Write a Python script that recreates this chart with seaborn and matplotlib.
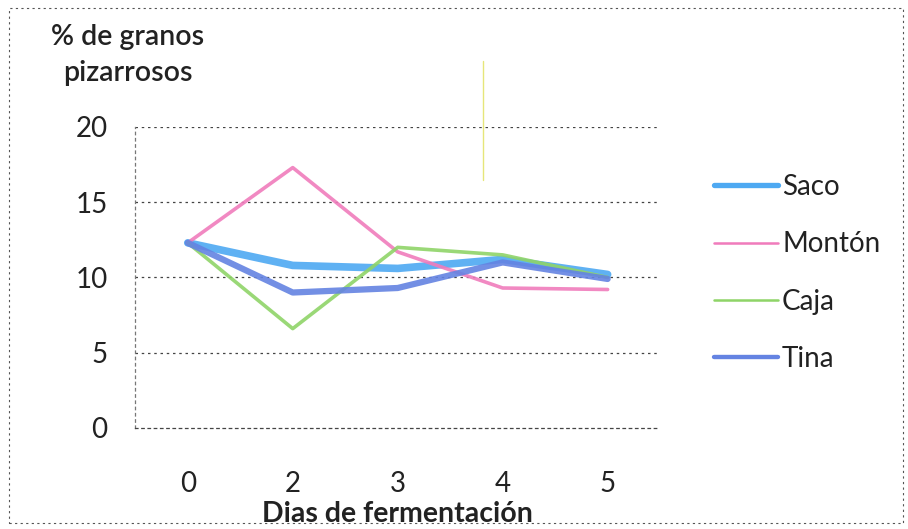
import matplotlib
matplotlib.use("Agg")
import matplotlib.pyplot as plt
from matplotlib.patches import Rectangle
from matplotlib.lines import Line2D
import seaborn as sns
import pandas as pd

# Días de fermentación y porcentaje de granos pizarrosos por método
dias = ["0", "2", "3", "4", "5"]
saco = [12.3, 10.8, 10.6, 11.2, 10.2]
monton = [12.3, 17.3, 11.7, 9.3, 9.2]
caja = [12.3, 6.6, 12.0, 11.5, 10.0]
tina = [12.3, 9.0, 9.3, 11.0, 9.9]
metodos = ["Saco", "Montón", "Caja", "Tina"]
y_ticks = [0, 5, 10, 15, 20]

colores = {"Saco": "#4ea9f2", "Montón": "#f07cbc", "Caja": "#8fd468", "Tina": "#6483e2"}
anchos = {"Saco": 5.5, "Montón": 2.6, "Caja": 2.6, "Tina": 4.5}

sns.set_theme(style="white")
plt.rcParams["font.family"] = ["Lato", "DejaVu Sans"]

filas = []
for nombre, serie in zip(metodos, [saco, monton, caja, tina]):
    for i, (d, v) in enumerate(zip(dias, serie)):
        filas.append({"pos": i, "dia": d, "valor": v, "metodo": nombre})
df = pd.DataFrame(filas)

fig = plt.figure(figsize=(9.08, 5.29), dpi=100)
ax = fig.add_axes([0.149, 0.191, 0.578, 0.569])

for nombre in metodos:
    sub = df[df["metodo"] == nombre]
    sns.lineplot(data=sub, x="pos", y="valor", ax=ax, color=colores[nombre],
                 linewidth=anchos[nombre], alpha=0.9, legend=False,
                 solid_capstyle="round", solid_joinstyle="round")

ax.set_xlim(-0.5, len(dias) - 0.5)
ax.set_ylim(0, 20)
ax.set_xticks(range(len(dias)))
ax.set_xticklabels(dias)
ax.set_yticks(y_ticks)
ax.set_yticklabels([str(t) for t in y_ticks])
ax.tick_params(axis="x", pad=31, labelsize=20, colors="#222222", length=0)
ax.tick_params(axis="y", pad=20, labelsize=20, colors="#222222", length=0)

for t in y_ticks[1:]:
    ax.axhline(t, color="#444444", linewidth=0.9, linestyle=(0, (2, 3)), zorder=0)

for s in ["top", "right"]:
    ax.spines[s].set_visible(False)
ax.spines["left"].set_color("#777777")
ax.spines["left"].set_linestyle((0, (2, 3)))
ax.spines["left"].set_linewidth(0.9)
ax.spines["bottom"].set_color("#444444")
ax.spines["bottom"].set_linestyle((0, (2, 3)))
ax.spines["bottom"].set_linewidth(0.9)

ax.set_xlabel("Dias de fermentación", fontsize=20.5, fontweight="bold",
              color="#222222", labelpad=3)
ax.set_ylabel("")

fig.text(0.141, 0.955, "% de granos\npizarrosos", ha="center", va="top",
         fontsize=20.5, fontweight="semibold", color="#222222", linespacing=1.5)

handles = [Line2D([0], [0], color=colores[m], linewidth=anchos[m] * 0.7,
                  solid_capstyle="round") for m in metodos]
fig.legend(handles, metodos, loc="center left",
           bbox_to_anchor=(714 / 908, 1 - 273 / 529),
           frameon=False, fontsize=20, handlelength=2.3, handletextpad=0.15,
           labelspacing=1.13, borderpad=0, borderaxespad=0, labelcolor="#222222")

# marco punteado del gráfico y trazo amarillo vertical
fig.add_artist(Rectangle((0.01, 0.012), 0.985, 0.972, transform=fig.transFigure,
                         fill=False, edgecolor="#555555", linewidth=0.8,
                         linestyle=(0, (2, 3))))
fig.add_artist(Line2D([0.532, 0.532], [0.66, 0.885], transform=fig.transFigure,
                      color="#e6e67a", linewidth=1.0))

fig.savefig("out.png", dpi=100, facecolor="white")
